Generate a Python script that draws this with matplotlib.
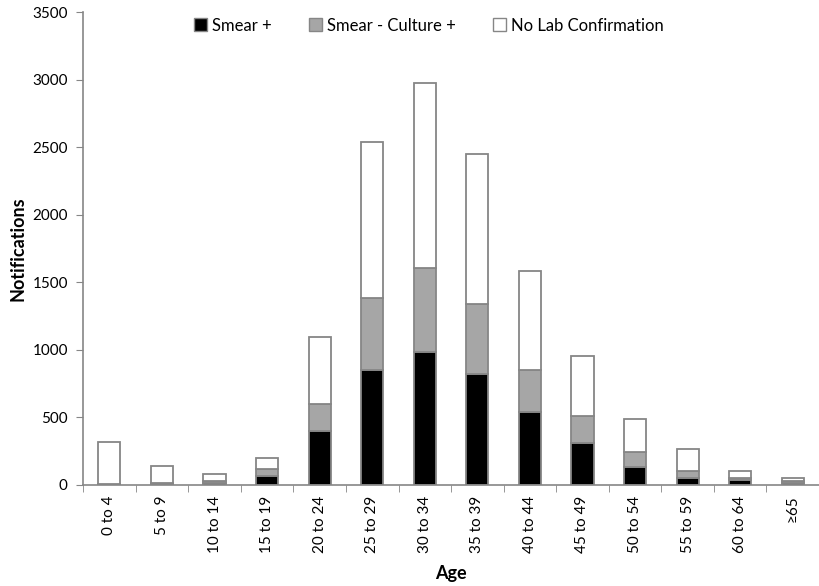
import matplotlib
matplotlib.use("Agg")
import matplotlib.pyplot as plt
import numpy as np
from matplotlib.patches import Patch

categories = ["0 to 4", "5 to 9", "10 to 14", "15 to 19", "20 to 24", "25 to 29", "30 to 34",
              "35 to 39", "40 to 44", "45 to 49", "50 to 54", "55 to 59", "60 to 64", "\u226565"]
smear_pos = [3, 5, 14, 63, 400, 851, 982, 822, 535, 311, 130, 52, 32, 12]
smear_neg_culture_pos = [5, 5, 14, 52, 195, 530, 623, 515, 317, 197, 109, 49, 20, 13]
no_lab = [307, 125, 47, 80, 498, 1159, 1370, 1113, 733, 447, 250, 163, 52, 24]

plt.rcParams['font.family'] = ['Lato', 'DejaVu Sans']

fig = plt.figure(figsize=(8.19, 5.86), dpi=100)
ax = fig.add_axes([0.1015, 0.173, 0.8985, 0.8065])

x = np.arange(len(categories))
w = 0.42
edge = "#868686"
lw = 1.3
s = np.array(smear_pos)
c = np.array(smear_neg_culture_pos)
n = np.array(no_lab)
ax.bar(x, s, w, color="black", edgecolor=edge, linewidth=lw, label="Smear +")
ax.bar(x, c, w, bottom=s, color="#a6a6a6", edgecolor=edge, linewidth=lw, label="Smear - Culture +")
ax.bar(x, n, w, bottom=s + c, color="white", edgecolor=edge, linewidth=lw, label="No Lab Confirmation")

ax.set_xlim(-0.5, len(categories) - 0.5)
ax.set_ylim(0, 3500)
ax.set_yticks(np.arange(0, 3501, 500))
ax.set_xticks(x)
ax.set_xticklabels(categories, rotation=90, fontsize=11)
ax.set_xticks(np.arange(-0.5, len(categories), 1), minor=True)
ax.tick_params(axis="x", which="major", length=0, pad=8)
ax.tick_params(axis="x", which="minor", length=5, color=edge, direction="out")
ax.tick_params(axis="y", length=5, color=edge, direction="out", labelsize=11, pad=6)

for side in ["top", "right"]:
    ax.spines[side].set_visible(False)
for side in ["left", "bottom"]:
    ax.spines[side].set_color(edge)
    ax.spines[side].set_linewidth(1.2)

ax.set_xlabel("Age", fontsize=13, fontweight="bold", labelpad=9)
ax.set_ylabel("Notifications", fontsize=13, fontweight="bold", labelpad=4)

handles = [Patch(facecolor="black", edgecolor=edge, label="Smear +"),
           Patch(facecolor="#a6a6a6", edgecolor=edge, label="Smear - Culture +"),
           Patch(facecolor="white", edgecolor=edge, label="No Lab Confirmation")]
ax.legend(handles=handles, loc="upper center", bbox_to_anchor=(0.47, 1.02), ncol=3,
          frameon=False, fontsize=12, handlelength=0.8, handleheight=0.8,
          handletextpad=0.3, columnspacing=2.2)

fig.savefig("out.png", dpi=100)
